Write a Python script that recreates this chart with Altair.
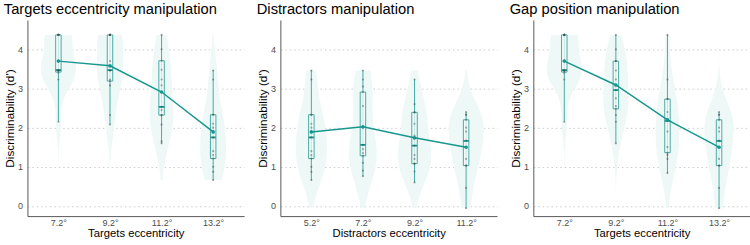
import json
import altair as alt
import pandas as pd

FONT = "Liberation Sans"
TEAL = "#17968e"
BOX_TEAL = "#45aaa3"
VIOLIN = "#eef8f7"
BOXFILL = "#f8fcfc"

panel_titles = ["Targets eccentricity manipulation", "Distractors manipulation", "Gap position manipulation"]
x_titles = ["Targets eccentricity", "Distractors eccentricity", "Targets eccentricity"]
cat_labels = [["7.2°", "9.2°", "11.2°", "13.2°"],
              ["5.2°", "7.2°", "9.2°", "11.2°"],
              ["7.2°", "9.2°", "11.2°", "13.2°"]]

# individual d' values per condition
A = [2.15, 3.23, 3.40, 3.46, 3.46, 3.46, 3.46, 3.46, 4.37, 4.37, 4.37, 4.37, 4.37]
B = [2.08, 2.32, 3.08, 3.19, 3.23, 3.46, 3.46, 3.70, 4.37, 4.37, 4.37, 4.37, 4.37]
C = [1.60, 1.65, 2.08, 2.32, 2.32, 2.45, 2.53, 3.23, 3.08, 3.48, 3.71, 4.00, 4.37]
D = [0.66, 0.87, 1.00, 1.21, 1.30, 1.40, 1.75, 2.00, 2.10, 2.33, 2.33, 3.23, 3.46]
E = [0.76, 0.90, 1.10, 1.28, 1.35, 1.45, 1.56, 2.00, 2.55, 2.91, 3.05, 3.23, 3.46]
F = [0.60, 0.88, 1.08, 1.08, 1.20, 1.30, 1.54, 1.80, 2.10, 2.39, 2.39, 2.60, 3.23]
G = [-0.06, 0.46, 1.03, 1.03, 1.20, 1.50, 1.67, 1.90, 2.00, 2.20, 2.33, 2.33, 2.40]
H = [1.60, 2.15, 2.32, 2.48, 2.55, 2.75, 2.96, 3.23, 3.46, 3.70, 3.70, 4.00, 4.37]
I = [0.84, 1.20, 1.30, 1.36, 1.50, 1.90, 2.18, 2.20, 2.40, 2.73, 2.73, 3.23, 4.37]

# box-plot summaries per condition: q1, median, q3, whisker low, whisker high, mean
summary = {
    "A": [3.42, 3.47, 4.37, 2.16, 4.37, 3.70],
    "B": [3.19, 3.47, 4.37, 2.08, 4.37, 3.58],
    "C": [2.32, 2.53, 3.71, 1.60, 4.37, 2.91],
    "D": [1.21, 1.75, 2.33, 0.66, 3.47, 1.89],
    "E": [1.28, 1.56, 2.91, 0.76, 3.47, 2.02],
    "F": [1.08, 1.54, 2.39, 0.60, 3.23, 1.74],
    "G": [1.03, 1.66, 2.20, -0.06, 2.40, 1.50],
    "H": [2.48, 2.96, 3.70, 1.60, 4.37, 3.09],
    "I": [1.36, 2.17, 2.73, 0.84, 4.37, 2.20],
}
raw = {"A": A, "B": B, "C": C, "D": D, "E": E, "F": F, "G": G, "H": H, "I": I}
panel_conditions = [["A", "B", "C", "D"], ["D", "E", "F", "G"], ["A", "H", "I", "G"]]

Y_DOMAIN = [-0.26, 4.75]
X_DOMAIN = [0.4, 4.6]
W, H_ = 221, 200


def make_panel(k):
    conds = panel_conditions[k]
    raw_rows, sum_rows = [], []
    for i, c in enumerate(conds, start=1):
        for v in raw[c]:
            raw_rows.append({"idx": i, "v": v})
        q1, med, q3, lo, hi, mean = summary[c]
        sum_rows.append({"idx": i, "q1": q1, "med": med, "q3": q3, "lo": lo, "hi": hi, "mean": mean})
    raw_df = pd.DataFrame(raw_rows)
    sum_df = pd.DataFrame(sum_rows)

    label_expr = json.dumps(cat_labels[k], ensure_ascii=False) + "[datum.value - 1]"
    xscale = alt.Scale(domain=X_DOMAIN, nice=False, zero=False)
    yscale = alt.Scale(domain=Y_DOMAIN, nice=False, zero=False)
    xaxis = alt.Axis(values=[1, 2, 3, 4], labelExpr=label_expr, title=x_titles[k],
                     grid=False, ticks=False, labelPadding=3, titlePadding=0,
                     labelFontSize=9.2, labelColor="#4d4d4d", titleFontSize=11.5,
                     labelFont=FONT, titleFont=FONT, titleFontWeight="normal",
                     titleColor="black", domainColor="#444", domainWidth=0.9)
    yaxis = alt.Axis(values=[0, 1, 2, 3, 4], title="Discriminability (d')",
                     grid=True, gridDash=[1.5, 3], gridColor="#c4c4c4", gridWidth=0.9,
                     ticks=False, labelPadding=5, titlePadding=1,
                     labelFontSize=9.2, labelColor="#4d4d4d", titleFontSize=12,
                     labelFont=FONT, titleFont=FONT, titleFontWeight="normal",
                     titleColor="black", domainColor="#444", domainWidth=0.9)

    def X(f, **kw):
        return alt.X(f, type="quantitative", scale=xscale, axis=xaxis, **kw)

    def Y(f, **kw):
        return alt.Y(f, type="quantitative", scale=yscale, axis=yaxis, **kw)

    violin = (
        alt.Chart(raw_df)
        .transform_density("v", groupby=["idx"], as_=["v", "density"])
        .transform_joinaggregate(maxd="max(density)")
        .transform_calculate(xlo="datum.idx - 0.34 * datum.density / datum.maxd",
                             xhi="datum.idx + 0.34 * datum.density / datum.maxd")
        .mark_area(orient="horizontal", color=VIOLIN, opacity=1)
        .encode(y=Y("v", stack=None), x=X("xlo", stack=None), x2="xhi:Q", detail="idx:N")
    )
    base = alt.Chart(sum_df).transform_calculate(bx1="datum.idx - 0.053", bx2="datum.idx + 0.053")
    whisker = base.mark_rule(color=BOX_TEAL, strokeWidth=1).encode(x=X("idx"), y=Y("lo"), y2="hi:Q")
    box = base.mark_rect(fill=BOXFILL, fillOpacity=0.7, stroke=BOX_TEAL, strokeWidth=1).encode(
        x=X("bx1"), x2="bx2:Q", y=Y("q1"), y2="q3:Q")
    median = base.mark_rule(color=TEAL, strokeWidth=1.8).encode(x=X("bx1"), x2="bx2:Q", y=Y("med"))
    pts = alt.Chart(raw_df).mark_circle(size=5, color="#444", opacity=0.45).encode(x=X("idx"), y=Y("v"))
    mline = base.mark_line(color=TEAL, strokeWidth=1.5).encode(x=X("idx"), y=Y("mean"))
    mpts = base.mark_circle(size=14, color=TEAL, opacity=1).encode(x=X("idx"), y=Y("mean"))

    return alt.layer(violin, whisker, box, median, pts, mline, mpts).properties(
        width=W, height=H_,
        title=alt.TitleParams(panel_titles[k], anchor="start", frame="bounds", fontSize=15,
                              font=FONT, fontWeight="normal", color="black", offset=3),
    )


chart = (
    alt.hconcat(*[make_panel(k) for k in range(3)], spacing=12)
    .properties(padding={"left": 3, "top": 0, "right": 0, "bottom": 0})
    .configure_view(stroke=None)
)
chart.save("out.html", embed_options={"renderer": "svg", "actions": False})
